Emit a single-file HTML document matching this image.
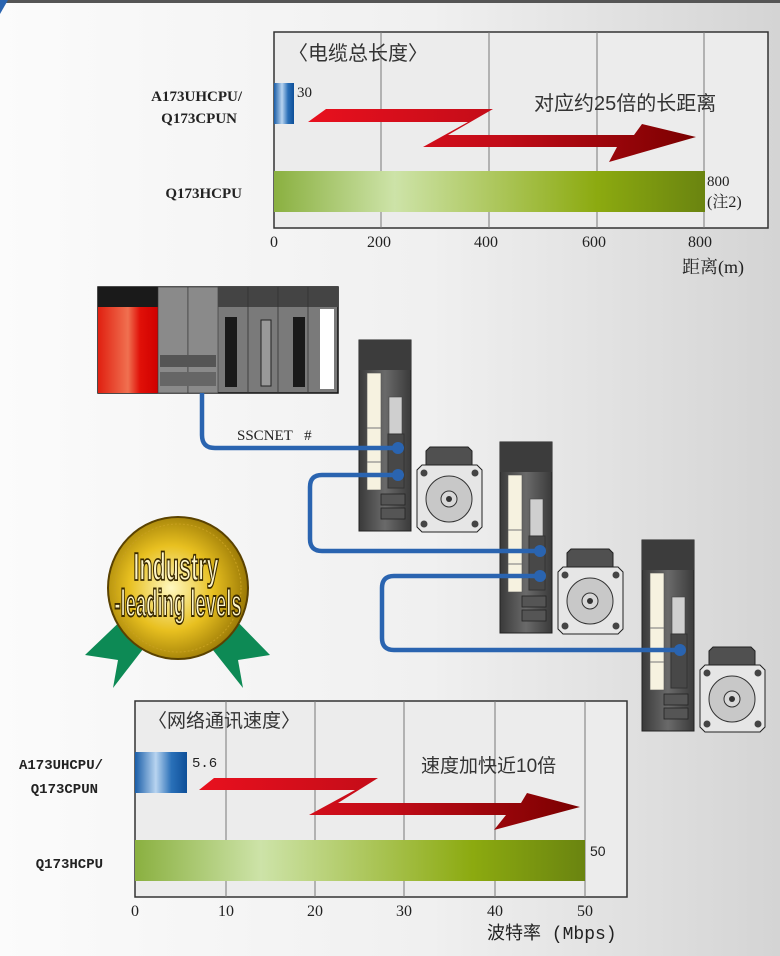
<!DOCTYPE html>
<html><head><meta charset="utf-8"><style>
html,body{margin:0;padding:0;width:780px;height:956px;overflow:hidden}
svg{display:block}
</style></head><body>
<svg width="780" height="956" viewBox="0 0 780 956" xmlns="http://www.w3.org/2000/svg">
<defs>
<linearGradient id="bg" x1="0" y1="0" x2="1" y2="0"><stop offset="0" stop-color="#fbfbfb"/><stop offset="0.55" stop-color="#f0f0f0"/><stop offset="1" stop-color="#d4d4d4"/></linearGradient>
<linearGradient id="green" x1="0" y1="0" x2="1" y2="0"><stop offset="0" stop-color="#8ab040"/><stop offset="0.28" stop-color="#cde3a8"/><stop offset="0.75" stop-color="#8caa10"/><stop offset="1" stop-color="#6a8410"/></linearGradient>
<linearGradient id="blue" x1="0" y1="0" x2="1" y2="0"><stop offset="0" stop-color="#1a5ea8"/><stop offset="0.4" stop-color="#b8d4f0"/><stop offset="0.7" stop-color="#2a70b8"/><stop offset="1" stop-color="#0e4f98"/></linearGradient>
<linearGradient id="red" x1="0" y1="0" x2="1" y2="0"><stop offset="0" stop-color="#e8101e"/><stop offset="0.5" stop-color="#c20c18"/><stop offset="1" stop-color="#7a0000"/></linearGradient>
<linearGradient id="amp" x1="0" y1="0" x2="1" y2="0"><stop offset="0" stop-color="#3a3a3a"/><stop offset="0.5" stop-color="#6a6a6a"/><stop offset="1" stop-color="#3a3a3a"/></linearGradient>
<radialGradient id="gold" cx="0.45" cy="0.5" r="0.6"><stop offset="0" stop-color="#fff8c0"/><stop offset="0.5" stop-color="#e8c020"/><stop offset="1" stop-color="#8a6a00"/></radialGradient>
<linearGradient id="plcred" x1="0" y1="0" x2="1" y2="0"><stop offset="0" stop-color="#e02010"/><stop offset="0.5" stop-color="#f07050"/><stop offset="0.7" stop-color="#e01008"/><stop offset="1" stop-color="#d00000"/></linearGradient>
<g id="amp1">
<rect x="359" y="340" width="52" height="191" fill="url(#amp)" stroke="#222"/>
<rect x="359" y="340" width="52" height="30" fill="#3c3c3c"/>
<rect x="367" y="373" width="14" height="117" fill="#f6f2e0" stroke="#555" stroke-width="0.6"/>
<line x1="367" y1="428" x2="381" y2="428" stroke="#777"/><line x1="367" y1="462" x2="381" y2="462" stroke="#777"/>
<rect x="389" y="397" width="13" height="37" fill="#cfcfcf" stroke="#444" stroke-width="0.6"/>
<rect x="388" y="434" width="16" height="54" fill="#484848" stroke="#333"/>
<rect x="381" y="494" width="24" height="11" fill="#555" stroke="#222" stroke-width="0.8"/>
<rect x="381" y="508" width="24" height="11" fill="#555" stroke="#222" stroke-width="0.8"/>
</g>
<g id="mot1">
<path d="M430 447h38l4 4v15h-46v-15z" fill="#505050" stroke="#222"/>
<path d="M422 465h55l5 5v57l-5 5h-55l-5-5v-57z" fill="#e6e6e6" stroke="#222"/>
<circle cx="449" cy="499" r="23" fill="#c8c8c8" stroke="#333"/>
<circle cx="449" cy="499" r="8" fill="#d8d8d8" stroke="#333"/>
<circle cx="449" cy="499" r="3" fill="#333"/>
<circle cx="424" cy="473" r="3.5" fill="#444"/><circle cx="475" cy="473" r="3.5" fill="#444"/>
<circle cx="424" cy="524" r="3.5" fill="#444"/><circle cx="475" cy="524" r="3.5" fill="#444"/>
</g>
</defs>
<rect width="780" height="956" fill="url(#bg)"/>
<rect width="780" height="3" fill="#555"/>
<path d="M0 0h8l-8 14z" fill="#2a64b0"/>

<!-- top chart -->
<g font-family="Liberation Serif, 'Noto Serif CJK SC', serif">
<rect x="274" y="32" width="494" height="196" fill="#ececec" stroke="#333" stroke-width="1.5"/>
<g stroke="#777" stroke-width="1"><line x1="381" y1="32" x2="381" y2="228"/><line x1="489" y1="32" x2="489" y2="228"/><line x1="597" y1="32" x2="597" y2="228"/><line x1="704" y1="32" x2="704" y2="228"/></g>
<rect x="274" y="83" width="20" height="41" fill="url(#blue)"/>
<rect x="274" y="171" width="431" height="41" fill="url(#green)"/>
<polygon points="308,122 326,109 493,109 448,135 634,135 642,124 696,137 609,162 617,147 423,147 468,122" fill="url(#red)"/>
<text x="288" y="60" font-size="20" fill="#333" font-family="'Liberation Sans','Noto Sans CJK SC',sans-serif">〈电缆总长度〉</text>
<text x="534" y="110" font-size="20" fill="#333" font-family="'Liberation Sans','Noto Sans CJK SC',sans-serif">对应约25倍的长距离</text>
<text x="297" y="97" font-size="15" fill="#222">30</text>
<text x="707" y="186" font-size="15" fill="#222">800</text>
<text x="707" y="207" font-size="16" fill="#222" font-family="'Liberation Serif','Noto Serif CJK SC',serif">(注2)</text>
<g font-size="15" fill="#222" text-anchor="end" font-weight="bold"><text x="242" y="101">A173UHCPU/</text><text x="237" y="123">Q173CPUN</text><text x="242" y="198">Q173HCPU</text></g>
<g font-size="16" fill="#222" text-anchor="middle"><text x="274" y="247">0</text><text x="379" y="247">200</text><text x="486" y="247">400</text><text x="594" y="247">600</text><text x="700" y="247">800</text></g>
<text x="682" y="273" font-size="18" fill="#222" font-family="'Liberation Serif','Noto Serif CJK SC',serif">距离(m)</text>
</g>

<!-- PLC -->
<rect x="98" y="287" width="240" height="106" fill="#7a7a7a" stroke="#111" stroke-width="1.5"/>
<rect x="98" y="287" width="60" height="106" fill="url(#plcred)"/>
<rect x="98" y="287" width="60" height="20" fill="#1a1a1a"/>
<rect x="158" y="287" width="30" height="106" fill="#8a8a8a" stroke="#333" stroke-width="0.6"/>
<rect x="188" y="287" width="30" height="106" fill="#8a8a8a" stroke="#333" stroke-width="0.6"/>
<rect x="160" y="355" width="56" height="12" fill="#555"/><rect x="160" y="372" width="56" height="14" fill="#666"/>
<rect x="218" y="287" width="120" height="20" fill="#444"/>
<g stroke="#333" stroke-width="0.8"><line x1="248" y1="287" x2="248" y2="393"/><line x1="278" y1="287" x2="278" y2="393"/><line x1="308" y1="287" x2="308" y2="393"/></g>
<rect x="225" y="317" width="12" height="70" fill="#1a1a1a"/>
<rect x="261" y="320" width="10" height="66" fill="#999" stroke="#222"/>
<rect x="293" y="317" width="12" height="70" fill="#1a1a1a"/>
<rect x="320" y="309" width="14" height="80" fill="#fff"/>

<use href="#amp1"/>
<use href="#mot1"/>
<use href="#amp1" transform="translate(141,102)"/>
<use href="#mot1" transform="translate(141,102)"/>
<use href="#amp1" transform="translate(283,200)"/>
<use href="#mot1" transform="translate(283,200)"/>

<!-- cables -->
<g fill="none" stroke="#2a64b0" stroke-width="4.5">
<path d="M202 393v42q0 13 13 13h183"/>
<path d="M398 475h-76q-12 0-12 12v52q0 12 12 12h218"/>
<path d="M540 576h-146q-12 0-12 12v50q0 12 12 12h286"/>
</g>
<g fill="#2a64b0"><circle cx="398" cy="448" r="6"/><circle cx="398" cy="475" r="6"/><circle cx="540" cy="551" r="6"/><circle cx="540" cy="576" r="6"/><circle cx="680" cy="650" r="6"/></g>
<text x="237" y="440" font-size="15" fill="#222" font-family="Liberation Serif, serif">SSCNET&#160;&#160;&#160;#</text>

<!-- medal -->
<polygon points="85,655 130,612 150,640 113,688 118,660" fill="#0d8a55"/>
<polygon points="270,655 228,612 205,640 243,688 238,660" fill="#0d8a55"/>
<ellipse cx="178" cy="588" rx="70" ry="71" fill="url(#gold)" stroke="#5a4200" stroke-width="2"/>
<ellipse cx="178" cy="588" rx="63" ry="64" fill="none" stroke="#c8a020" stroke-width="1" stroke-dasharray="2 2"/>
<g font-family="'Liberation Sans Narrow','Liberation Sans',sans-serif" font-weight="bold" fill="#fff6c8" stroke="#3a2a00" stroke-width="1.4" text-anchor="middle">
<text x="176" y="580" font-size="30" transform="translate(176,580) scale(0.72,1.3) translate(-176,-580)">Industry</text>
<text x="178" y="616" font-size="28" transform="translate(178,616) scale(0.66,1.35) translate(-178,-616)">-leading levels</text>
</g>

<!-- bottom chart -->
<g font-family="Liberation Serif, 'Noto Serif CJK SC', serif">
<rect x="135" y="701" width="492" height="196" fill="#ececec" stroke="#333" stroke-width="1.5"/>
<g stroke="#777" stroke-width="1"><line x1="226" y1="701" x2="226" y2="897"/><line x1="315" y1="701" x2="315" y2="897"/><line x1="404" y1="701" x2="404" y2="897"/><line x1="495" y1="701" x2="495" y2="897"/><line x1="585" y1="701" x2="585" y2="897"/></g>
<rect x="135" y="752" width="52" height="41" fill="url(#blue)"/>
<rect x="135" y="840" width="450" height="41" fill="url(#green)"/>
<polygon points="199,790 214,778 378,778 338,803 521,803 527,793 580,807 494,830 506,815 309,815 355,790" fill="url(#red)"/>
<text x="148" y="727" font-size="19" fill="#333" font-family="'Liberation Sans','Noto Sans CJK SC',sans-serif">〈网络通讯速度〉</text>
<text x="421" y="772" font-size="19" fill="#333" font-family="'Liberation Sans','Noto Sans CJK SC',sans-serif">速度加快近10倍</text>
<text x="192" y="767" font-size="14" fill="#222" font-family="Liberation Mono, monospace">5.6</text>
<text x="590" y="856" font-size="14" fill="#222" font-family="Liberation Sans, sans-serif">50</text>
<g font-size="14" fill="#222" text-anchor="end" font-family="Liberation Mono, monospace" font-weight="bold"><text x="103" y="769">A173UHCPU/</text><text x="98" y="793">Q173CPUN</text><text x="103" y="868">Q173HCPU</text></g>
<g font-size="16" fill="#222" text-anchor="middle"><text x="135" y="916">0</text><text x="226" y="916">10</text><text x="315" y="916">20</text><text x="404" y="916">30</text><text x="495" y="916">40</text><text x="585" y="916">50</text></g>
<text x="487" y="939" font-size="18" fill="#222" font-family="'Liberation Mono','Noto Sans CJK SC',monospace">波特率 (Mbps)</text>
</g>
</svg>
</body></html>
